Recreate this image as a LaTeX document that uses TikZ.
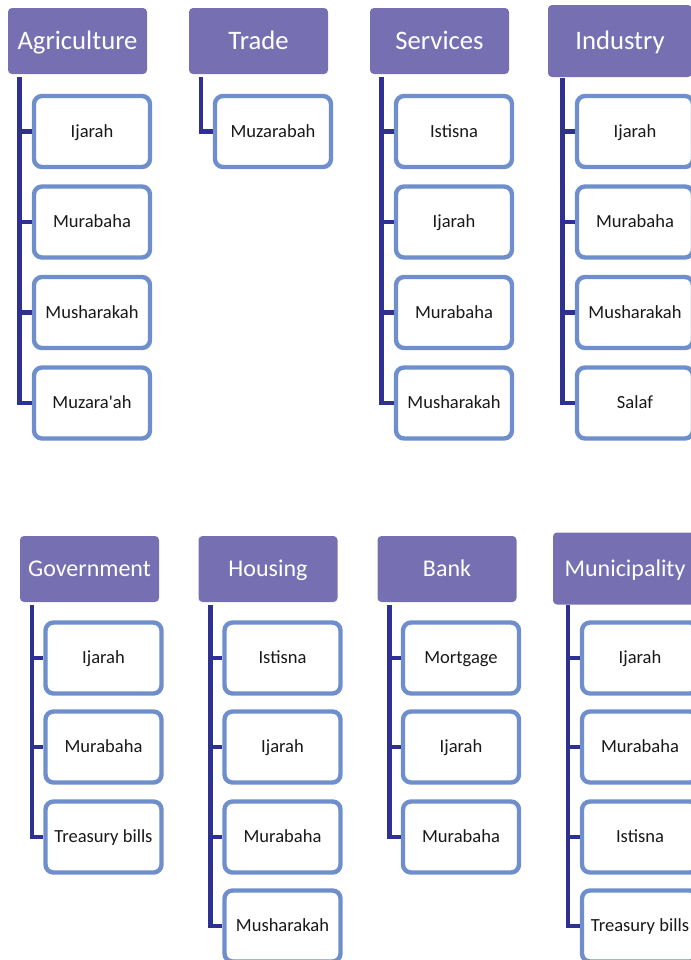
\documentclass[tikz,border=0pt]{standalone}
\usepackage{fontspec}
\setmainfont{Carlito}
\definecolor{hdr}{RGB}{118,112,178}
\definecolor{brd}{RGB}{110,143,204}
\definecolor{lnk}{RGB}{46,49,146}
\begin{document}
\begin{tikzpicture}[x=0.75pt,y=-0.75pt,
  head/.style={fill=hdr,draw=none,rounded corners=3pt,minimum width=104.25pt,minimum height=49.5pt,
    text=white,font=\fontsize{20}{24}\selectfont,inner sep=0pt,text height=16pt,text depth=3.12pt},
  bighead/.style={head,minimum width=108pt,minimum height=54pt},
  small/.style={font=\fontsize{18}{22}\selectfont,text height=14.4pt,text depth=2.8pt},
  item/.style={draw=brd,line width=3.3pt,fill=white,rounded corners=6pt,minimum width=87pt,minimum height=53.25pt,
    text=black!90,font=\fontsize{13.9}{16}\selectfont,inner sep=0pt,text height=11pt,text depth=2.05pt},
  conn/.style={draw=lnk,line width=3.6pt,line join=miter}]
\useasboundingbox (0,0) rectangle (691,960);
% ---------- top row ----------
\node[head] (agr) at (77.5,41) {Agriculture};
\node[head] (tra) at (258.5,41) {Trade};
\node[head] (ser) at (439.5,41) {Services};
\node[bighead] (ind) at (620,41) {Industry};
\coordinate (agrL) at (19.5,77);
\coordinate (traL) at (201,77);
\coordinate (serL) at (381.5,77);
\coordinate (indL) at (562.5,78);
\node[item] (agr1) at (92,131.5) {Ijarah};
\node[item] (agr2) at (92,222) {Murabaha};
\node[item] (agr3) at (92,312.5) {Musharakah};
\node[item] (agr4) at (92,403) {Muzara\textquotesingle ah};
\node[item] (tra1) at (273,131.5) {Muzarabah};
\node[item] (ser1) at (454,131.5) {Istisna};
\node[item] (ser2) at (454,222) {Ijarah};
\node[item] (ser3) at (454,312.5) {Murabaha};
\node[item] (ser4) at (454,403) {Musharakah};
\node[item] (ind1) at (635,131.5) {Ijarah};
\node[item] (ind2) at (635,222) {Murabaha};
\node[item] (ind3) at (635,312.5) {Musharakah};
\node[item] (ind4) at (635,403) {Salaf};
\foreach \n in {1,...,4}{\draw[conn] (agrL) |- (agr\n.west);}
\draw[conn] (traL) |- (tra1.west);
\foreach \n in {1,...,4}{\draw[conn] (serL) |- (ser\n.west);}
\foreach \n in {1,...,4}{\draw[conn] (indL) |- (ind\n.west);}
% ---------- bottom row ----------
\node[head,small] (gov) at (89.5,569) {Government};
\node[head,small] (hou) at (268,569) {Housing};
\node[head,small] (ban) at (447,569) {Bank};
\node[bighead,small] (mun) at (625,568.5) {Municipality};
\coordinate (govL) at (32,605);
\coordinate (houL) at (210.5,605);
\coordinate (banL) at (389.5,605);
\coordinate (munL) at (568,605);
\node[item] (gov1) at (103.5,658) {Ijarah};
\node[item] (gov2) at (103.5,747) {Murabaha};
\node[item] (gov3) at (103.5,837) {Treasury bills};
\node[item] (hou1) at (282.5,658) {Istisna};
\node[item] (hou2) at (282.5,747) {Ijarah};
\node[item] (hou3) at (282.5,837) {Murabaha};
\node[item] (hou4) at (282.5,926) {Musharakah};
\node[item] (ban1) at (461,658) {Mortgage};
\node[item] (ban2) at (461,747) {Ijarah};
\node[item] (ban3) at (461,837) {Murabaha};
\node[item] (mun1) at (640,658) {Ijarah};
\node[item] (mun2) at (640,747) {Murabaha};
\node[item] (mun3) at (640,837) {Istisna};
\node[item] (mun4) at (640,926) {Treasury bills};
\foreach \n in {1,...,3}{\draw[conn] (govL) |- (gov\n.west);}
\foreach \n in {1,...,4}{\draw[conn] (houL) |- (hou\n.west);}
\foreach \n in {1,...,3}{\draw[conn] (banL) |- (ban\n.west);}
\foreach \n in {1,...,4}{\draw[conn] (munL) |- (mun\n.west);}
\end{tikzpicture}
\end{document}
